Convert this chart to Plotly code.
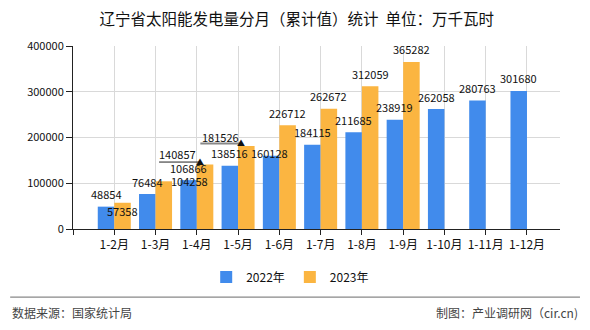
import plotly.graph_objects as go

categories = ["1-2月", "1-3月", "1-4月", "1-5月", "1-6月", "1-7月", "1-8月", "1-9月", "1-10月", "1-11月", "1-12月"]
values_2022 = [48854, 76484, 106866, 138516, 160128, 184115, 211685, 238919, 262058, 280763, 301680]
values_2023 = [57358, 104258, 140857, 181526, 226712, 262672, 312059, 365282, None, None, None]
series_names = ["2022年", "2023年"]
y_ticks = [0, 100000, 200000, 300000, 400000]

BLUE = "#418BEC"
ORANGE = "#FBB541"
FONT = "Noto Sans CJK SC"

xs = list(range(len(categories)))

fig = go.Figure()
fig.add_trace(go.Bar(x=xs, y=values_2022, name=series_names[0], marker_color=BLUE,
                     marker_line_width=0))
fig.add_trace(go.Bar(x=xs, y=values_2023, name=series_names[1], marker_color=ORANGE,
                     marker_line_width=0))

# label placement tweaks (pixel offsets) : (xshift, yshift)
off22 = {i: (0, 12.5) for i in xs}
off22[4] = (-1.5, 3)
off23 = {i: (0, 12.5) for i in xs}
off23[0] = (0, -8)
off23[1] = (26, 0)
off23[2] = (-27.5, 10.5)
off23[3] = (-26.3, 9.3)

annotations = []
for i, v in enumerate(values_2022):
    dx, dy = off22[i]
    annotations.append(dict(x=i - 0.2, y=v, xref="x", yref="y", text=str(v), showarrow=False,
                            xshift=dx, yshift=dy, yanchor="middle",
                            font=dict(size=11, color="#111", family=FONT)))
for i, v in enumerate(values_2023):
    if v is None:
        continue
    dx, dy = off23[i]
    annotations.append(dict(x=i + 0.2, y=v, xref="x", yref="y", text=str(v), showarrow=False,
                            xshift=dx, yshift=dy, yanchor="middle",
                            font=dict(size=11, color="#111", family=FONT)))

shapes = []
# callout leader lines for 1-4月 and 1-5月 (2023)
for i, color, x0, x1, w in [(2, "#222", -46, -6, 1), (3, "#888", -46, -5, 2)]:
    v = values_2023[i]
    shapes.append(dict(type="line", xref="x", yref="y", xsizemode="pixel", ysizemode="pixel",
                       xanchor=i + 0.2, yanchor=v, x0=x0, x1=x1, y0=2.5, y1=2.5,
                       line=dict(color=color, width=w)))
    annotations.append(dict(x=i + 0.2, y=v, xref="x", yref="y", text="▲", showarrow=False,
                            xshift=-5, yshift=3, yanchor="middle",
                            font=dict(size=8, color="#111", family=FONT)))

# footer line
shapes.append(dict(type="line", xref="paper", yref="paper", x0=-0.129, x1=1.041,
                   y0=-0.372, y1=-0.372, line=dict(color="#888", width=1.2)))

annotations.append(dict(x=-0.129, y=-0.459, xref="paper", yref="paper", xanchor="left",
                        yanchor="middle", showarrow=False, text="数据来源：国家统计局",
                        font=dict(size=12, color="#444", family=FONT)))
annotations.append(dict(x=1.041, y=-0.459, xref="paper", yref="paper", xanchor="right",
                        yanchor="middle", showarrow=False, text="制图：产业调研网（cir.cn)",
                        font=dict(size=12, color="#444", family=FONT)))

fig.update_layout(
    width=590, height=330,
    margin=dict(l=73, r=30, t=46, b=101),
    paper_bgcolor="white", plot_bgcolor="white",
    barmode="group", bargap=0.2, bargroupgap=0,
    title=dict(text="辽宁省太阳能发电量分月（累计值）统计  单位：万千瓦时", x=0.503, xanchor="center",
               y=0.942, yanchor="middle", font=dict(size=15.5, color="#111", family=FONT)),
    font=dict(family=FONT, color="#111"),
    showlegend=True,
    legend=dict(orientation="h", x=0.446, xanchor="center", y=-0.262, yanchor="middle",
                font=dict(size=12, color="#111", family=FONT), itemwidth=30,
                traceorder="normal"),
    annotations=annotations,
    shapes=shapes,
)
fig.update_xaxes(range=[-1, 10.8], tickmode="array", tickvals=[-1] + xs, ticktext=[""] + categories,
                 showgrid=True, gridcolor="#d9d9d9", gridwidth=1,
                 showline=True, linecolor="#222", linewidth=1,
                 ticks="outside", ticklen=5, tickcolor="#222",
                 tickfont=dict(size=12, color="#111", family=FONT), zeroline=False)
fig.update_yaxes(range=[0, 400000], tickmode="array", tickvals=y_ticks,
                 ticktext=[str(t) for t in y_ticks],
                 showgrid=True, gridcolor="#d9d9d9", gridwidth=1,
                 showline=True, linecolor="#222", linewidth=1,
                 ticks="outside", ticklen=6, tickcolor="#222",
                 tickfont=dict(size=11, color="#111", family=FONT), zeroline=False)

fig.write_html("out.html")
